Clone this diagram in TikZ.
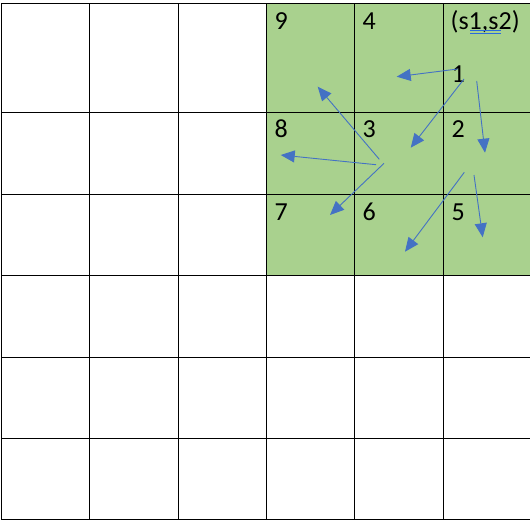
\documentclass[tikz,border=0pt]{standalone}
\usepackage{fontspec}
\setmainfont{Carlito}
\usetikzlibrary{arrows.meta}
\definecolor{cellgreen}{HTML}{A9D18E}
\definecolor{arrowblue}{HTML}{4472C4}
\definecolor{spellblue}{HTML}{2A6BDB}
\begin{document}
\begin{tikzpicture}[x=1pt,y=-1pt,
  gridline/.style={black,line width=1pt},
  lbl/.style={anchor=base west,inner sep=0pt,font=\fontsize{26}{31}\selectfont},
  movearrow/.style={arrowblue,line width=0.9pt,-{Triangle[length=14pt,width=12pt]}}]
\useasboundingbox (0,0) rectangle (530,520);
\fill[white] (0,0) rectangle (530,520);
% green region
\fill[cellgreen] (266,3) rectangle (530,275);
% grid
\foreach \yy in {3,112,194,275,357,438,519}
  \draw[gridline] (1,\yy) -- (530,\yy);
\foreach \xx in {1,89,178,266,354,443}
  \draw[gridline] (\xx,3) -- (\xx,519);
% labels
\node[lbl] (n9) at (274.5,29.5) {9};
\node[lbl] (n4) at (362.5,29.5) {4};
\node[lbl] (ns) at (450.5,29.5) {(s1,s2)};
\node[lbl] (n1) at (451.5,82.5) {1};
\node[lbl] (n8) at (274.5,137.5) {8};
\node[lbl] (n3) at (362.5,137.5) {3};
\node[lbl] (n2) at (451.5,137.5) {2};
\node[lbl] (n7) at (274.5,220) {7};
\node[lbl] (n6) at (362.5,220) {6};
\node[lbl] (n5) at (451.5,220) {5};
% spell-check double underline
\coordinate (u1a) at (470,30.5);
\coordinate (u1b) at (501,30.5);
\coordinate (u2a) at (470,33.5);
\coordinate (u2b) at (501,33.5);
\draw[spellblue,line width=0.8pt] (u1a) -- (u1b);
\draw[spellblue,line width=0.8pt] (u2a) -- (u2b);
% arrow coordinates
\coordinate (a1s) at (457.7,69);   \coordinate (a1e) at (396.7,76.7);
\coordinate (a2s) at (464,79);     \coordinate (a2e) at (410.7,147.7);
\coordinate (a3s) at (476.7,81);   \coordinate (a3e) at (485,152.7);
\coordinate (a4s) at (379.3,159.3);\coordinate (a4e) at (317.7,86.7);
\coordinate (a5s) at (376,164.7);  \coordinate (a5e) at (280.7,155);
\coordinate (a6s) at (384,163.3);  \coordinate (a6e) at (330,215);
\coordinate (a7s) at (464.3,172.3);\coordinate (a7e) at (405,251.7);
\coordinate (a8s) at (474,175);    \coordinate (a8e) at (482.7,237.3);
\draw[movearrow] (a1s) -- (a1e);
\draw[movearrow] (a2s) -- (a2e);
\draw[movearrow] (a3s) -- (a3e);
\draw[movearrow] (a4s) -- (a4e);
\draw[movearrow] (a5s) -- (a5e);
\draw[movearrow] (a6s) -- (a6e);
\draw[movearrow] (a7s) -- (a7e);
\draw[movearrow] (a8s) -- (a8e);
\end{tikzpicture}
\end{document}
